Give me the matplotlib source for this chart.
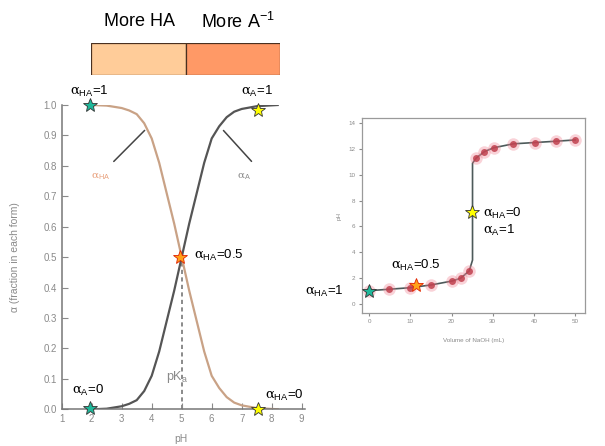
import matplotlib
matplotlib.use("Agg")
import matplotlib.pyplot as plt

plt.rcParams.update({
    "font.family": ["Liberation Sans", "DejaVu Sans"],
    "mathtext.fontset": "custom",
    "mathtext.rm": "Liberation Sans",
    "mathtext.it": "DejaVu Serif",
    "mathtext.bf": "Liberation Sans:bold",
})

# --- data ---
# fraction curves (left)
ph = [2.0, 2.5, 3.0, 3.25, 3.5, 3.75, 4.0, 4.25, 4.5, 4.75, 5.0, 5.25, 5.5,
      5.75, 6.0, 6.25, 6.5, 6.75, 7.0, 7.5, 8.2]
alpha_ha = [1.0, 0.998, 0.99, 0.982, 0.97, 0.94, 0.89, 0.81, 0.71, 0.61, 0.50,
            0.39, 0.29, 0.19, 0.11, 0.07, 0.04, 0.022, 0.013, 0.004, 0.0]
alpha_a = [0.0, 0.002, 0.01, 0.018, 0.03, 0.06, 0.11, 0.19, 0.29, 0.39, 0.50,
           0.61, 0.71, 0.81, 0.89, 0.93, 0.96, 0.978, 0.987, 0.996, 1.0]
pka = 5.0

# stars on the fraction plot: (pH, alpha, colour)
left_star_x = [1.95, 7.55, 4.95, 1.95, 7.55]
left_star_y = [1.0, 0.985, 0.5, 0.003, 0.0]
left_star_c = ["#1fb89a", "#ffff00", "#ffa21a", "#1fb89a", "#ffff00"]

# titration curve (right)
vol_pts = [0, 4.9, 10, 15, 20.2, 22.2, 24.3, 26, 28, 30.3, 35, 40.2, 45.3, 50]
ph_pts = [1.03, 1.14, 1.26, 1.47, 1.78, 1.99, 2.56, 11.3, 11.8, 12.1, 12.4,
          12.5, 12.6, 12.7]
vol_line = [0, 4.9, 10, 15, 20.2, 22.2, 24.3, 25.1, 25.1, 26, 28, 30.3, 35,
            40.2, 45.3, 50]
ph_line = [1.03, 1.14, 1.26, 1.47, 1.78, 1.99, 2.56, 3.4, 10.9, 11.3, 11.8,
           12.1, 12.4, 12.5, 12.6, 12.7]
right_star_x = [0, 11.5, 25.0]
right_star_y = [1.03, 1.45, 7.15]
right_star_c = ["#1fb89a", "#ffa21a", "#ffff00"]

bar_labels = ["More HA", r"More A$^{\mathregular{-1}}$"]
bar_colors = ["#ffcc99", "#ff9966"]

W, H = 605, 446
fig = plt.figure(figsize=(W / 100, H / 100), dpi=100)


def px_axes(x0, y0, x1, y1):
    return fig.add_axes([x0 / W, 1 - y1 / H, (x1 - x0) / W, (y1 - y0) / H])


GRAY = "#8a8a8a"

# ---------- top bar ----------
axb = px_axes(91, 43, 280, 75)
axb.barh([0, 0], [1, 1], left=[0, 1], height=1, color=bar_colors,
         edgecolor="#4a3020", linewidth=0.9)
axb.set_xlim(0, 2)
axb.set_ylim(-0.5, 0.5)
axb.axis("off")
fig.text(139 / W, 1 - 22 / H, bar_labels[0], ha="center", va="center", fontsize=13)
fig.text(238 / W, 1 - 22 / H, bar_labels[1], ha="center", va="center", fontsize=13)

# ---------- left: fraction vs pH ----------
ax = px_axes(61.7, 105, 304.7, 409.3)
ax.plot(ph, alpha_ha, color="#c9a286", lw=1.6, zorder=2)
ax.plot(ph, alpha_a, color="#555555", lw=1.6, zorder=2)
ax.plot([pka, pka], [0, 0.5], color="#777777", lw=1.2, ls=(0, (2.5, 2)), zorder=1)
ax.set_xlim(1, 9.1)
ax.set_ylim(0, 1.0)
ax.set_xticks(range(1, 10))
ax.set_yticks([i / 10 for i in range(11)])
ax.set_yticklabels([f"{i / 10:.1f}" for i in range(11)])
ax.tick_params(direction="in", length=4, colors=GRAY, labelsize=7, labelcolor=GRAY)
for s in ["top", "right"]:
    ax.spines[s].set_visible(False)
for s in ["left", "bottom"]:
    ax.spines[s].set_color("#777777")
    ax.spines[s].set_linewidth(1.1)
ax.set_ylabel("α (fraction in each form)", fontsize=7.5, color=GRAY)
ax.yaxis.set_label_coords(-0.172, 0.5)
ax.set_xlabel("pH", fontsize=7.5, color=GRAY)
ax.xaxis.set_label_coords(0.49, -0.08)

ax.text(2.28, 0.763, r"$\alpha_{\mathregular{HA}}$", color="#e8a07c", fontsize=7.5,
        ha="center", va="center")
ax.text(7.08, 0.763, r"$\alpha_{\mathregular{A}}$", color=GRAY, fontsize=7.5,
        ha="center", va="center")
ax.annotate("", xy=(3.83, 0.923), xytext=(2.67, 0.808),
            arrowprops=dict(arrowstyle="-", color="#444444", lw=1.1))
ax.annotate("", xy=(6.33, 0.923), xytext=(7.39, 0.808),
            arrowprops=dict(arrowstyle="-", color="#444444", lw=1.1))
ax.text(4.85, 0.107, r"pK$_{\mathregular{a}}$", color=GRAY, fontsize=9,
        ha="center", va="center")

for x, y, c in zip(left_star_x, left_star_y, left_star_c):
    ec = "#e02000" if c == "#ffa21a" else "#333333"
    ax.plot(x, y, marker="*", ms=10, color=c, mec=ec, mew=0.6,
            clip_on=False, zorder=5)

ann = dict(fontsize=9.5, va="center", ha="left")
ax.text(1.29, 1.043, r"$\alpha_{\mathregular{HA}}$=1", **ann)
ax.text(6.97, 1.043, r"$\alpha_{\mathregular{A}}$=1", **ann)
ax.text(5.4, 0.507, r"$\alpha_{\mathregular{HA}}$=0.5",
        bbox=dict(facecolor="white", edgecolor="none", pad=2), **ann)
ax.text(1.33, 0.061, r"$\alpha_{\mathregular{A}}$=0", **ann)
ax.text(7.78, 0.047, r"$\alpha_{\mathregular{HA}}$=0", **ann)

# ---------- right: titration curve ----------
ax2 = px_axes(361.7, 118, 585, 313)
ax2.plot(vol_line, ph_line, color="#4d5a5a", lw=1.2, zorder=2)
ax2.plot(vol_pts, ph_pts, "o", ms=9, color="#f08090", alpha=0.35, mec="none", zorder=3)
ax2.plot(vol_pts, ph_pts, "o", ms=5, color="#c0404e", alpha=0.85, mec="none", zorder=3)
ax2.set_xlim(-1.8, 52.4)
ax2.set_ylim(-0.7, 14.4)
ax2.set_xticks(range(0, 51, 10))
ax2.set_yticks(range(0, 15, 2))
ax2.tick_params(direction="out", length=2.5, colors=GRAY, labelsize=4.5,
                labelcolor=GRAY, pad=2)
for s in ax2.spines.values():
    s.set_color("#9a9a9a")
    s.set_linewidth(0.9)
ax2.set_xlabel("Volume of NaOH (mL)", fontsize=4.5, color=GRAY)
ax2.xaxis.set_label_coords(0.5, -0.128)
ax2.set_ylabel("pH", fontsize=4.5, color=GRAY)
ax2.yaxis.set_label_coords(-0.088, 0.5)

for x, y, c in zip(right_star_x, right_star_y, right_star_c):
    ec = "#e02000" if c == "#ffa21a" else "#333333"
    ax2.plot(x, y, marker="*", ms=10, color=c, mec=ec, mew=0.6,
             clip_on=False, zorder=5)

wb = dict(facecolor="white", edgecolor="none", pad=2.5)
ax2.text(-15.6, 0.95, r"$\alpha_{\mathregular{HA}}$=1", bbox=wb, **ann)
ax2.text(5.4, 2.97, r"$\alpha_{\mathregular{HA}}$=0.5", bbox=wb, **ann)
ax2.text(27.7, 7.03, r"$\alpha_{\mathregular{HA}}$=0", **ann)
ax2.text(27.7, 5.68, r"$\alpha_{\mathregular{A}}$=1", **ann)

fig.savefig("out.png", dpi=100)
